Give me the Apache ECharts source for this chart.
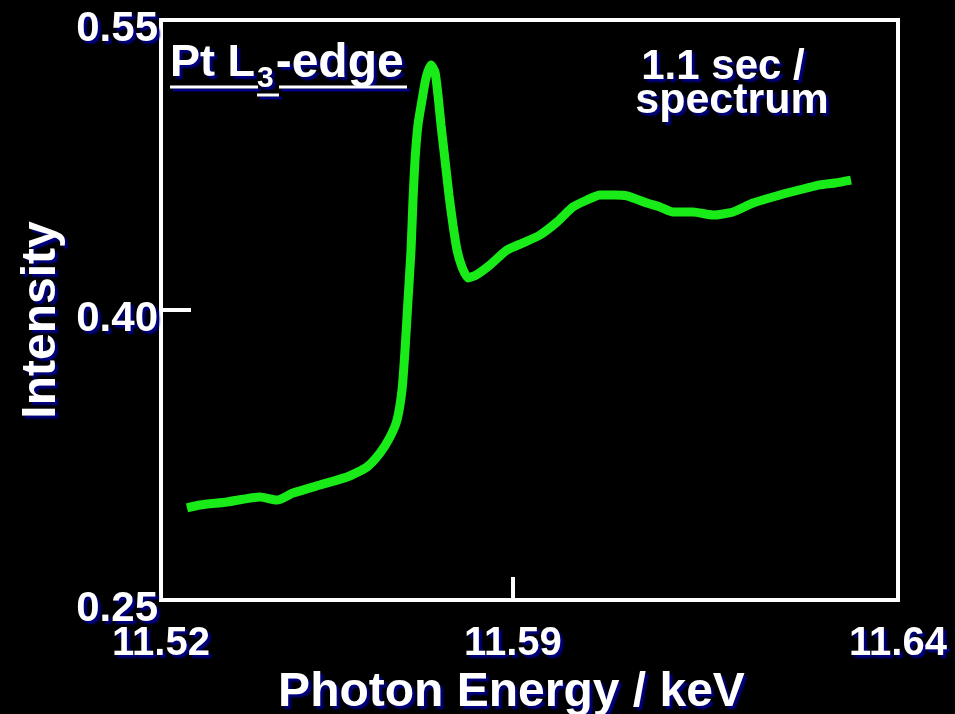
<!DOCTYPE html>
<html><head><meta charset="utf-8">
<script src="https://cdn.jsdelivr.net/npm/echarts@6/dist/echarts.min.js"></script>
<style>html,body{margin:0;padding:0;background:#000;}#c{width:955px;height:714px;}</style>
</head><body><div id="c"></div>
<script>
// Photon energy (keV) and intensity
const energyKeV = [11.52423, 11.52635, 11.53075, 11.53612, 11.53889, 11.54149, 11.54589, 11.55028, 11.55354, 11.55566,
  11.55729, 11.55843, 11.55924, 11.55973, 11.56022, 11.56071, 11.56103, 11.56136, 11.56184, 11.5625,
  11.56315, 11.56396, 11.56461, 11.5651, 11.56559, 11.56624, 11.56689, 11.56754, 11.5682, 11.56901,
  11.56999, 11.57129, 11.57357, 11.57634, 11.57894, 11.58171, 11.58448, 11.58708, 11.58936, 11.59148,
  11.59392, 11.59587, 11.59913, 11.60125, 11.60336, 11.60662, 11.60988, 11.61313, 11.61639, 11.62079,
  11.62518, 11.6273, 11.62974, 11.63235];
const intensity = [0.2976, 0.2991, 0.3007, 0.3033, 0.3017, 0.3053, 0.3095, 0.3136, 0.3188, 0.3260,
  0.3343, 0.3431, 0.3586, 0.3793, 0.4052, 0.4310, 0.4569, 0.4776, 0.4957, 0.5086,
  0.5200, 0.5267, 0.5231, 0.5112, 0.4957, 0.4776, 0.4595, 0.4440, 0.4310, 0.4222,
  0.4166, 0.4181, 0.4233, 0.4310, 0.4347, 0.4388, 0.4455, 0.4533, 0.4569, 0.4595,
  0.4595, 0.4590, 0.4553, 0.4533, 0.4507, 0.4507, 0.4491, 0.4507, 0.4553, 0.4595,
  0.4631, 0.4647, 0.4657, 0.4672];
const xTickValues = [11.52, 11.5773, 11.64];
const xTickLabels = ['11.52', '11.59', '11.64'];
const yTickValues = [0.25, 0.40, 0.55];
const yTickLabels = ['0.25', '0.40', '0.55'];
const xMarkTick = [11.5773];
const yMarkTick = [0.40];
const xTitle = 'Photon Energy / keV';
const yTitle = 'Intensity';

const FONT = '"Liberation Sans", Arial, sans-serif';
const SH = {textShadowColor: '#000080', textShadowOffsetX: 3, textShadowOffsetY: 3, textShadowBlur: 2};
function nearestLabel(v, vals, labs) {
  let bi = 0, bd = Infinity;
  vals.forEach((t, i) => { const d = Math.abs(t - v); if (d < bd) { bd = d; bi = i; } });
  return labs[bi];
}
const lineShadow = {stroke: '#fff', lineWidth: 3, shadowColor: '#000080', shadowOffsetX: 3, shadowOffsetY: 3};
const chart = echarts.init(document.getElementById('c'));
chart.setOption({
  backgroundColor: '#000',
  animation: false,
  grid: {left: 161, right: 57, top: 20, bottom: 114, show: true, backgroundColor: '#000', borderColor: '#fff', borderWidth: 4,
    containLabel: false, outerBoundsMode: 'none'},
  xAxis: {
    type: 'value', min: 11.52, max: 11.64,
    name: xTitle, nameLocation: 'middle', nameGap: 68,
    nameTextStyle: Object.assign({color: '#fff', fontFamily: FONT, fontWeight: 'bold', fontSize: 48, padding: [0, 36, 0, 0]}, SH),
    axisLine: {show: false},
    splitLine: {show: false},
    axisTick: {show: true, inside: true, length: 23, customValues: xMarkTick, lineStyle: {color: '#fff', width: 4}},
    axisLabel: Object.assign({show: true, customValues: xTickValues, margin: 24, color: '#fff', fontFamily: FONT, fontWeight: 'bold', fontSize: 40,
      formatter: v => nearestLabel(v, xTickValues, xTickLabels)}, SH)
  },
  yAxis: {
    type: 'value', min: 0.25, max: 0.55,
    name: yTitle, nameLocation: 'middle', nameGap: 95, nameRotate: 90,
    nameTextStyle: Object.assign({color: '#fff', fontFamily: FONT, fontWeight: 'bold', fontSize: 48, padding: [0, 20, 0, 0]}, SH),
    axisLine: {show: false},
    splitLine: {show: false},
    axisTick: {show: true, inside: true, length: 30, customValues: yMarkTick, lineStyle: {color: '#fff', width: 4}},
    axisLabel: Object.assign({show: true, customValues: yTickValues, margin: 3, color: '#fff', fontFamily: FONT, fontWeight: 'bold', fontSize: 42,
      verticalAlign: 'top', lineHeight: 18,
      formatter: v => nearestLabel(v, yTickValues, yTickLabels)}, SH)
  },
  series: [{
    type: 'line',
    data: energyKeV.map((e, i) => [e, intensity[i]]),
    showSymbol: false,
    smooth: 0.2,
    lineStyle: {color: '#19eb19', width: 9},
    z: 3
  }],
  graphic: [
    {type: 'text', left: 170, top: 34, z: 10, style: Object.assign({
      text: '{a|Pt L}{s|3}{b|-edge}', fill: '#fff', font: 'bold 44px ' + FONT,
      rich: {a: {fontSize: 45, fontWeight: 'bold', fontFamily: FONT, color: '#fff', lineHeight: 48},
             b: {fontSize: 48, fontWeight: 'bold', fontFamily: FONT, color: '#fff', lineHeight: 48},
             s: {fontSize: 30, fontWeight: 'bold', fontFamily: FONT, color: '#fff', lineHeight: 30, padding: [30, 2, 0, 2]}}
    }, SH)},
    {type: 'line', z: 10, shape: {x1: 170, y1: 87, x2: 258, y2: 87}, style: lineShadow},
    {type: 'line', z: 10, shape: {x1: 257, y1: 95, x2: 279, y2: 95}, style: lineShadow},
    {type: 'line', z: 10, shape: {x1: 279, y1: 87, x2: 407, y2: 87}, style: lineShadow},
    {type: 'text', x: 723, y: 50, z: 10, style: Object.assign({
      text: '1.1 sec /', fill: '#fff', font: 'bold 42px ' + FONT, align: 'center', verticalAlign: 'top', lineHeight: 34
    }, SH)},
    {type: 'text', x: 732, y: 84, z: 10, style: Object.assign({
      text: 'spectrum', fill: '#fff', font: 'bold 43px ' + FONT, align: 'center', verticalAlign: 'top', lineHeight: 34
    }, SH)}
  ]
});
</script></body></html>
